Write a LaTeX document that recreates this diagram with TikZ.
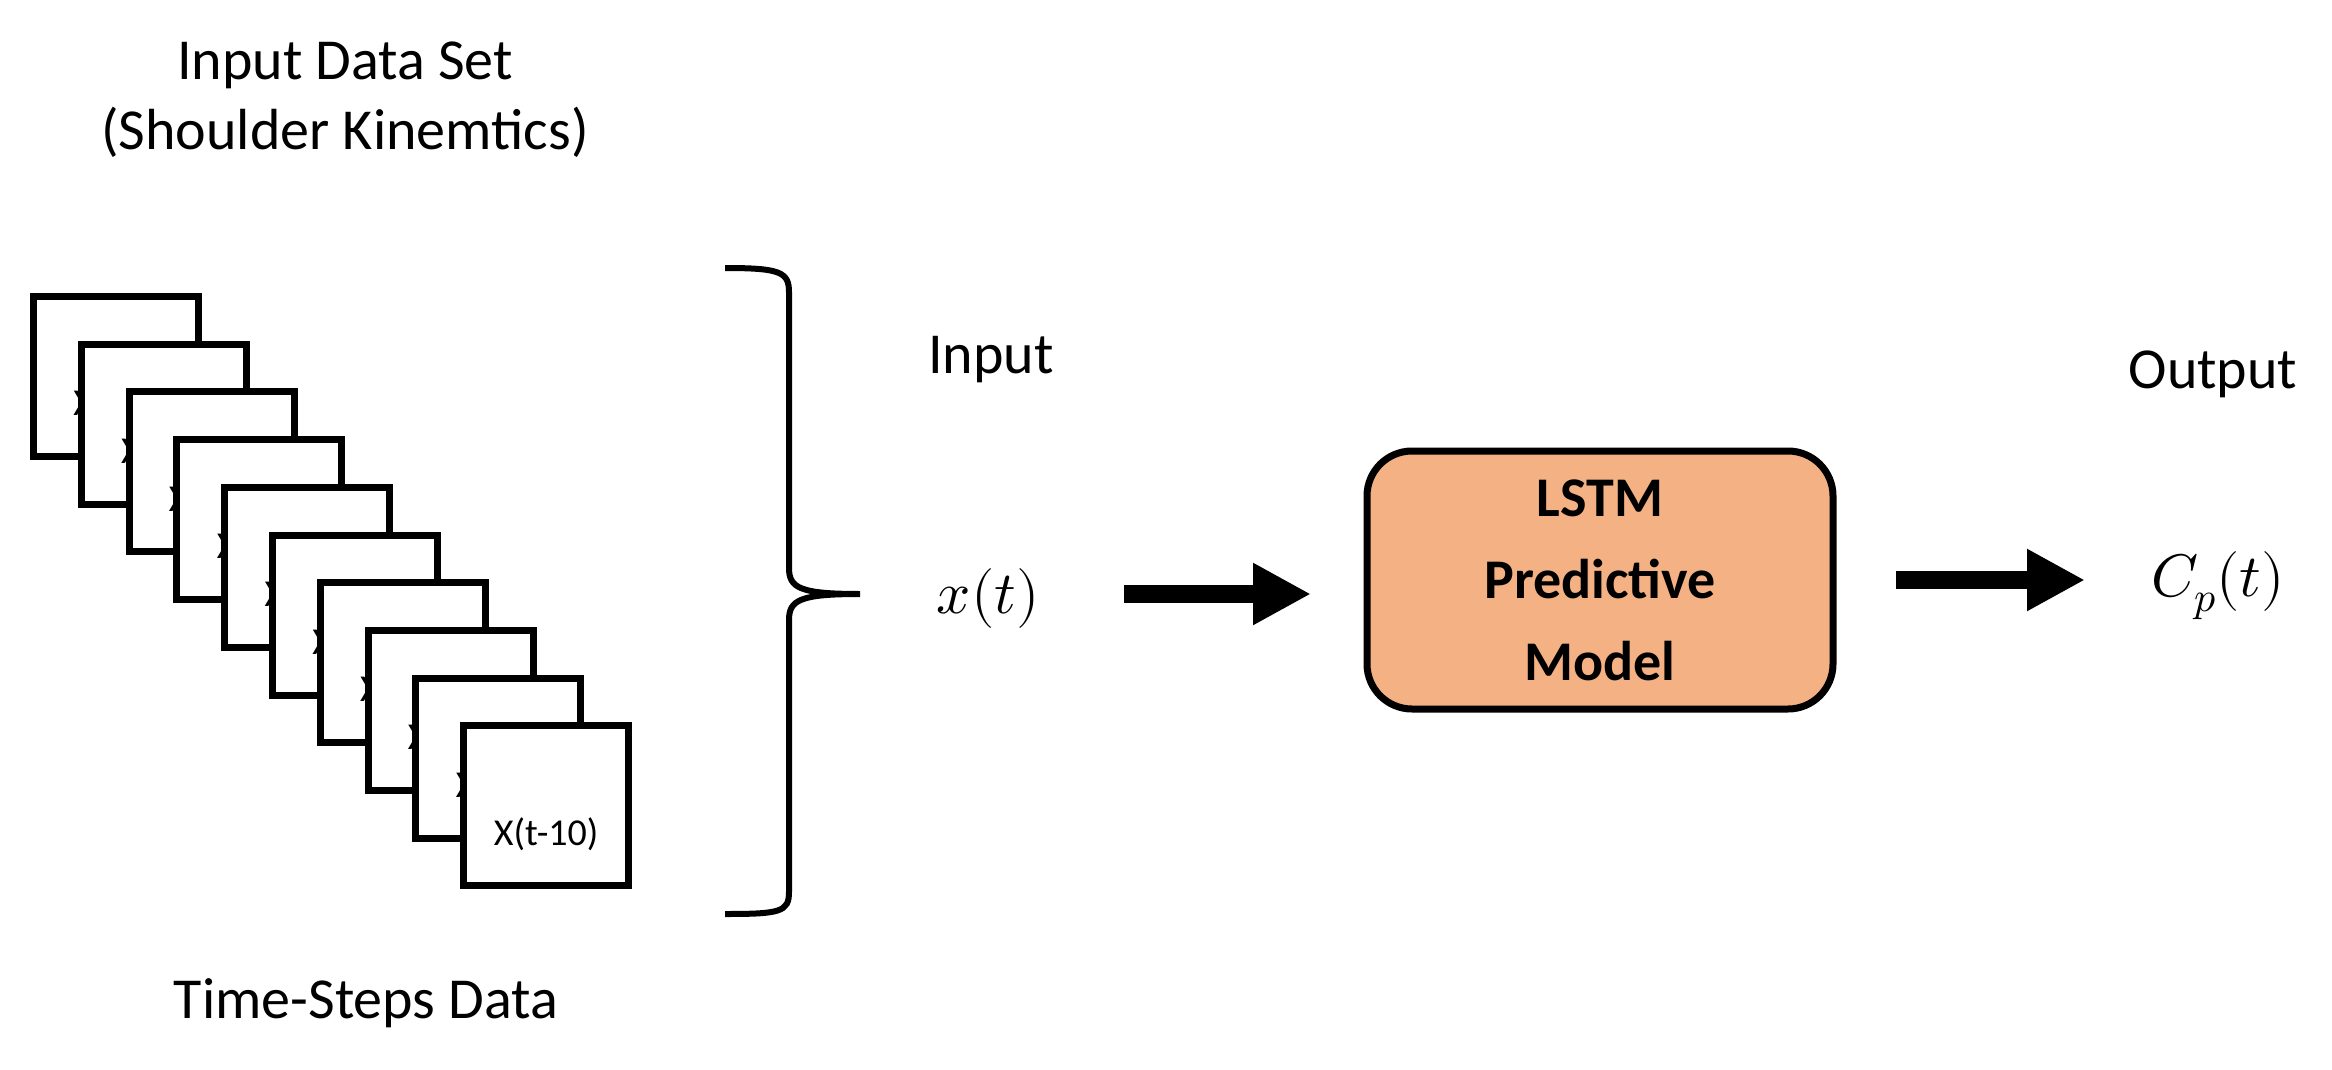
\documentclass[tikz,border=0pt]{standalone}
\usepackage{fontspec}
\usepackage{unicode-math}
\setmainfont{Carlito}
\setmathfont{Latin Modern Math}
\usetikzlibrary{arrows.meta}
\definecolor{lstm}{HTML}{F4B183}
\begin{document}
\begin{tikzpicture}[x=1pt,y=-1pt,
  lbl/.style={font=\fontsize{58}{70}\selectfont, align=center},
  frame/.style={draw=black, line width=7pt, fill=white, minimum width=165pt, minimum height=160pt, inner sep=0pt},
  fat/.style={line width=18pt, -{Triangle[length=58pt,width=58pt]}, shorten >=0pt}]
\useasboundingbox (0,0) rectangle (2332,1070);
\node[lbl] (title) at (345,100) {Input Data Set\\(Shoulder Kinemtics)};
\node[lbl] (bottom) at (366,1003) {Time-Steps Data};
\foreach \k in {1,...,10}{
  \pgfmathsetmacro{\xx}{30+47.8*(\k-1)}
  \pgfmathsetmacro{\yy}{293+47.7*(\k-1)}
  \node[frame, anchor=north west] (f\k) at (\xx,\yy) {};
  \node[font=\fontsize{38}{44}\selectfont] (t\k) at ([yshift=-28pt]f\k.center) {X(t-\k)};
}
\draw[line width=6pt] (725,268) .. controls (780,268) and (789,272) .. (789,292)
  -- (789,568) .. controls (789,588) and (800,594) .. (860,594)
  .. controls (800,594) and (789,600) .. (789,620)
  -- (789,892) .. controls (789,912) and (780,914) .. (725,914);
\coordinate (tip) at (860,594);
\node[lbl] (inp) at (991,360) {Input};
\node[font=\fontsize{60}{70}\selectfont] (x) at (988,598) {$x(t)$};
\node[draw=black, line width=7pt, fill=lstm, rounded corners=45pt, minimum width=466pt, minimum height=258pt, align=center, font=\fontsize{56}{82}\selectfont\bfseries] (lstm) at (1600,580) {LSTM\\Predictive\\Model};
\node[lbl] (out) at (2213,374) {Output};
\node[font=\fontsize{60}{70}\selectfont] (cp) at (2218,586) {$C_p(t)$};
\coordinate (a1s) at (1124,594);
\coordinate (a1e) at (1311,594);
\coordinate (a2s) at (1896,580);
\coordinate (a2e) at (2085,580);
\draw[fat] (a1s) -- (a1e);
\draw[fat] (a2s) -- (a2e);
\end{tikzpicture}
\end{document}
